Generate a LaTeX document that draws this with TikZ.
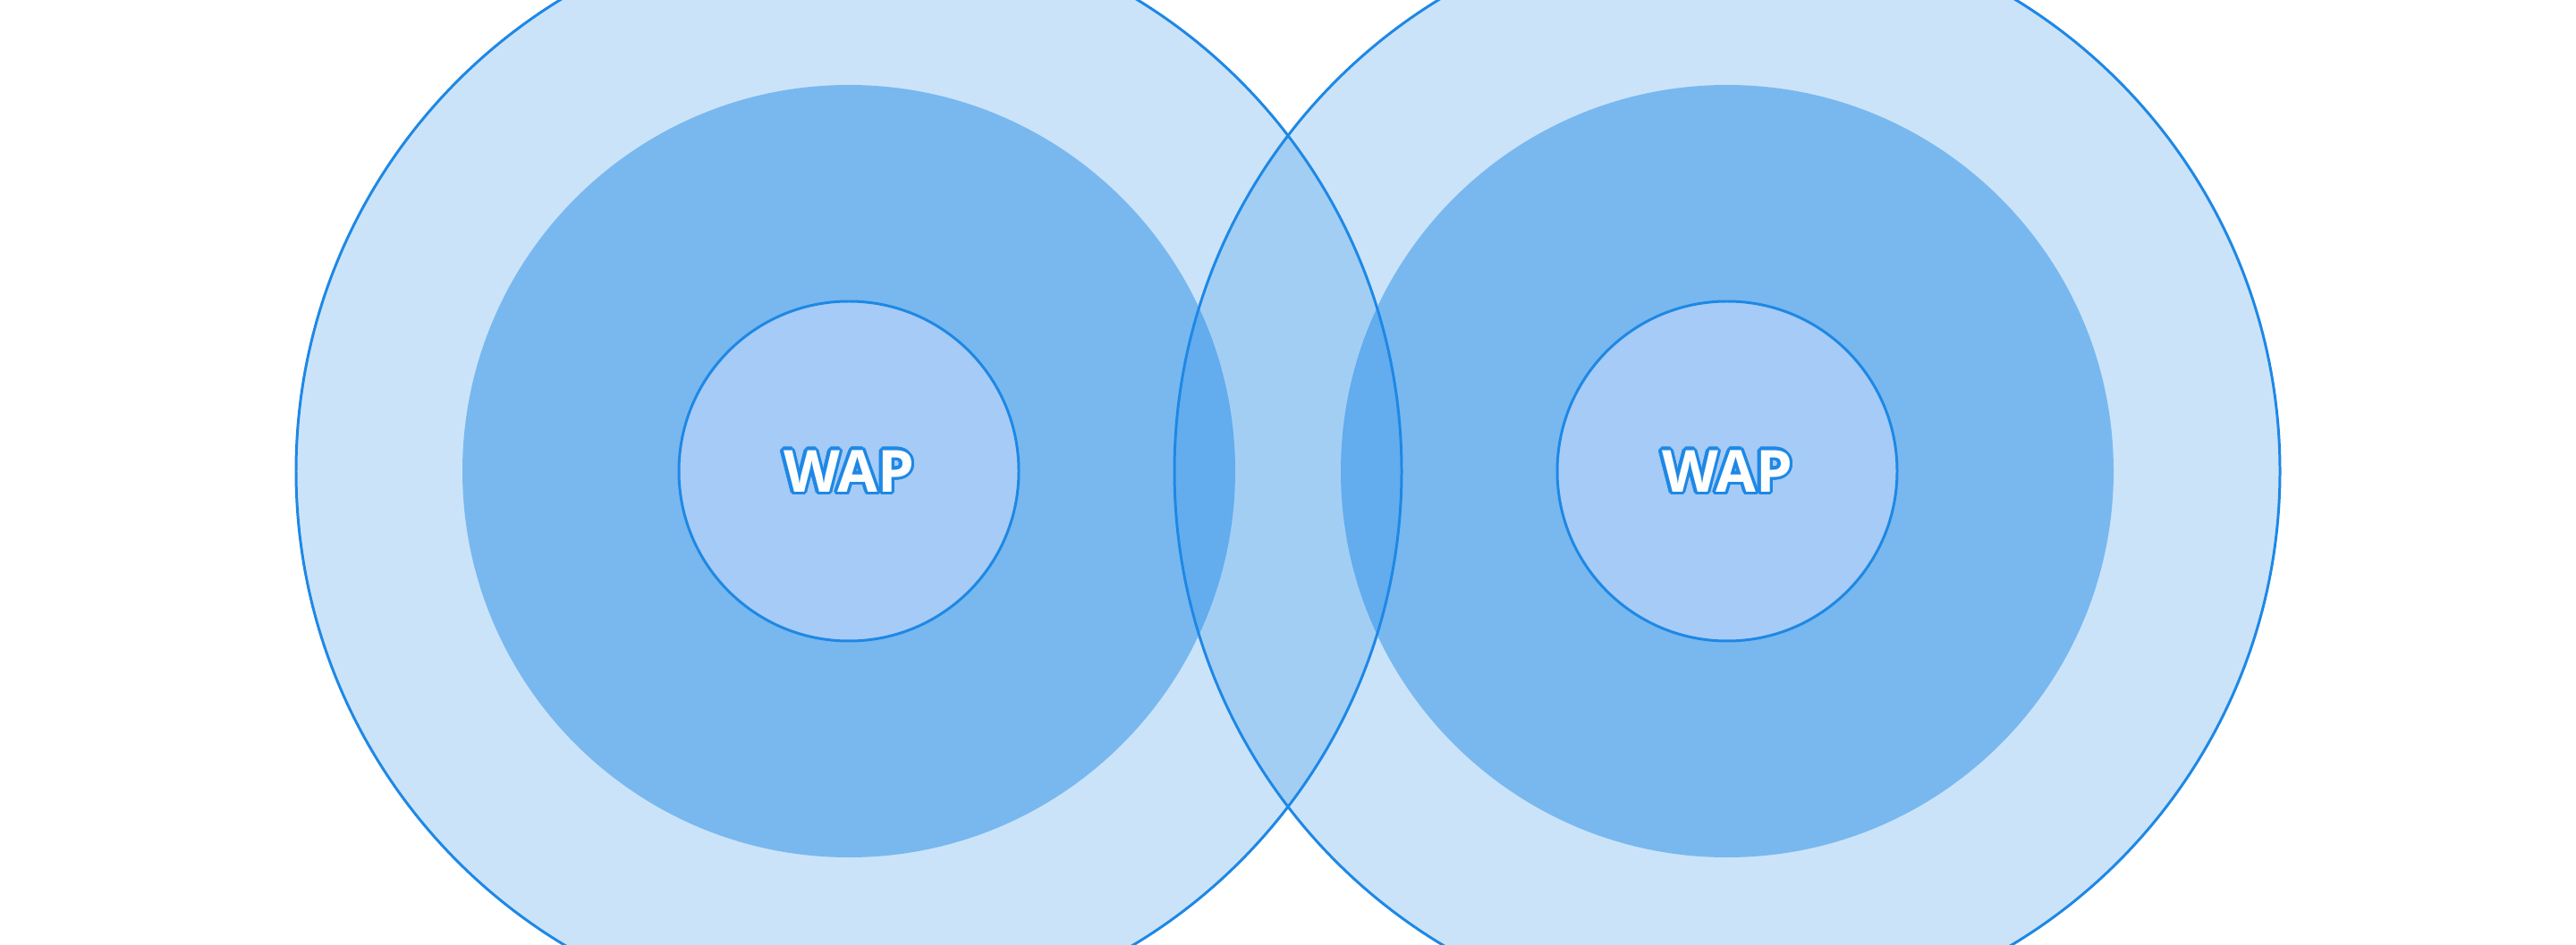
\documentclass[tikz,border=0pt]{standalone}
\usepackage{fontspec}
\setmainfont{Open Sans}
\usetikzlibrary{positioning}
\definecolor{wifi}{RGB}{30,136,229}
\definecolor{core}{RGB}{166,203,246}
\tikzset{
  band/.style={circle,fill=wifi,fill opacity=#1,inner sep=0pt,outer sep=0pt},
  outerband/.style={band=0.23,draw=wifi,draw opacity=1,line width=0.85pt,minimum size=123.6mm},
  midband/.style={band=0.48,minimum size=86.4mm},
  apcore/.style={circle,fill=core,draw=wifi,line width=0.85pt,inner sep=0pt,
    minimum size=38mm,font=\fontsize{18.5}{22}\selectfont\bfseries},
}
% white letters with a thin blue rim
\newcommand{\outlined}[1]{%
  \foreach \a in {0,20,...,340}{%
    \pgfmathsetmacro{\dx}{1.0*cos(\a)}%
    \pgfmathsetmacro{\dy}{1.0*sin(\a)}%
    \rlap{\hspace*{\dx pt}\raisebox{\dy pt}{\color{wifi}#1}}%
  }%
  {\color{white}#1}}

\begin{document}
\begin{tikzpicture}
  \useasboundingbox (0,0) rectangle (28.8,10.56);
  \clip (0,0) rectangle (28.8,10.56);
  % inner coverage first, so the outer rims stay on top
  \foreach \x [count=\i] in {9.49,19.31}
    \node[midband] (mid\i) at (\x,5.29) {};
  \foreach \x [count=\i] in {9.49,19.31}
    \node[outerband] (outer\i) at (\x,5.29) {};
  \foreach \i in {1,2}
    \node[apcore] (wap\i) at (outer\i.center) {\outlined{WAP}};
\end{tikzpicture}
\end{document}
